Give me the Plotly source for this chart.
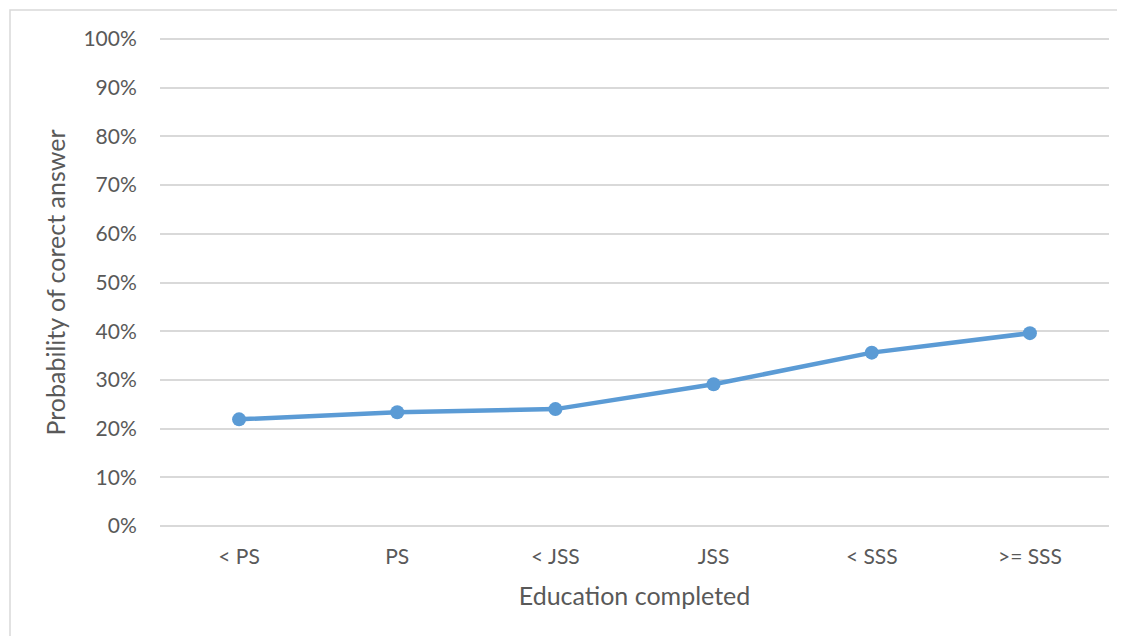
import plotly.graph_objects as go

categories = ["< PS", "PS", "< JSS", "JSS", "< SSS", ">= SSS"]
probability = [0.219, 0.2335, 0.240, 0.291, 0.356, 0.396]
y_ticks = [0, 0.1, 0.2, 0.3, 0.4, 0.5, 0.6, 0.7, 0.8, 0.9, 1.0]
y_tick_labels = ["0%", "10%", "20%", "30%", "40%", "50%", "60%", "70%", "80%", "90%", "100%"]

FONT = "Lato, 'Open Sans', sans-serif"
GREY = "#595959"

# page body has an 8px margin; shift everything by -8 px
OFF = 8
PL, PR = 160, 1109
Y0PX, Y100PX = 526, 39          # pixel rows of 0% and 100%
PAD = 5                          # extend plot area so edge gridlines are drawn
PT, PB = Y100PX - PAD, Y0PX + PAD
unit = (Y0PX - Y100PX)           # px per 1.0
ypad = PAD / unit

fig = go.Figure()
fig.add_trace(go.Scatter(
    x=categories, y=probability, mode="lines+markers",
    line=dict(color="#5b9bd5", width=4.5),
    marker=dict(color="#5b9bd5", size=14),
    showlegend=False, cliponaxis=False,
))

W, H = 1125 - OFF, 636 - OFF
fig.update_layout(
    width=W, height=H,
    margin=dict(l=PL - OFF, r=W - (PR - OFF), t=PT - OFF, b=H - (PB - OFF), autoexpand=False),
    paper_bgcolor="white", plot_bgcolor="white",
    font=dict(family=FONT, color=GREY, size=21),
    xaxis=dict(
        type="category", range=[-0.5, len(categories) - 0.5],
        showgrid=False, showline=False, zeroline=False,
        ticks="outside", ticklen=7, tickcolor="rgba(0,0,0,0)",
        tickfont=dict(size=21, color=GREY),
        title=dict(text="Education completed", font=dict(size=25, color=GREY), standoff=20),
        automargin=False,
    ),
    yaxis=dict(
        range=[-ypad, 1 + ypad], tickvals=y_ticks, ticktext=y_tick_labels,
        showgrid=True, gridcolor="#d9d9d9", gridwidth=1.5,
        zeroline=False, showline=False,
        ticks="outside", ticklen=18, tickcolor="rgba(0,0,0,0)",
        tickfont=dict(size=21, color=GREY),
        title=dict(text="Probability of corect answer", font=dict(size=25, color=GREY), standoff=10),
        automargin=False,
    ),
    shapes=[dict(
        type="rect", xref="paper", yref="paper",
        x0=(10 - PL) / (PR - PL), x1=1.1, y0=-0.4, y1=1 + (PT - 10) / (PB - PT),
        line=dict(color="#d9d9d9", width=1.5), fillcolor="rgba(0,0,0,0)", layer="below",
    )],
)

fig.write_html("out.html")
